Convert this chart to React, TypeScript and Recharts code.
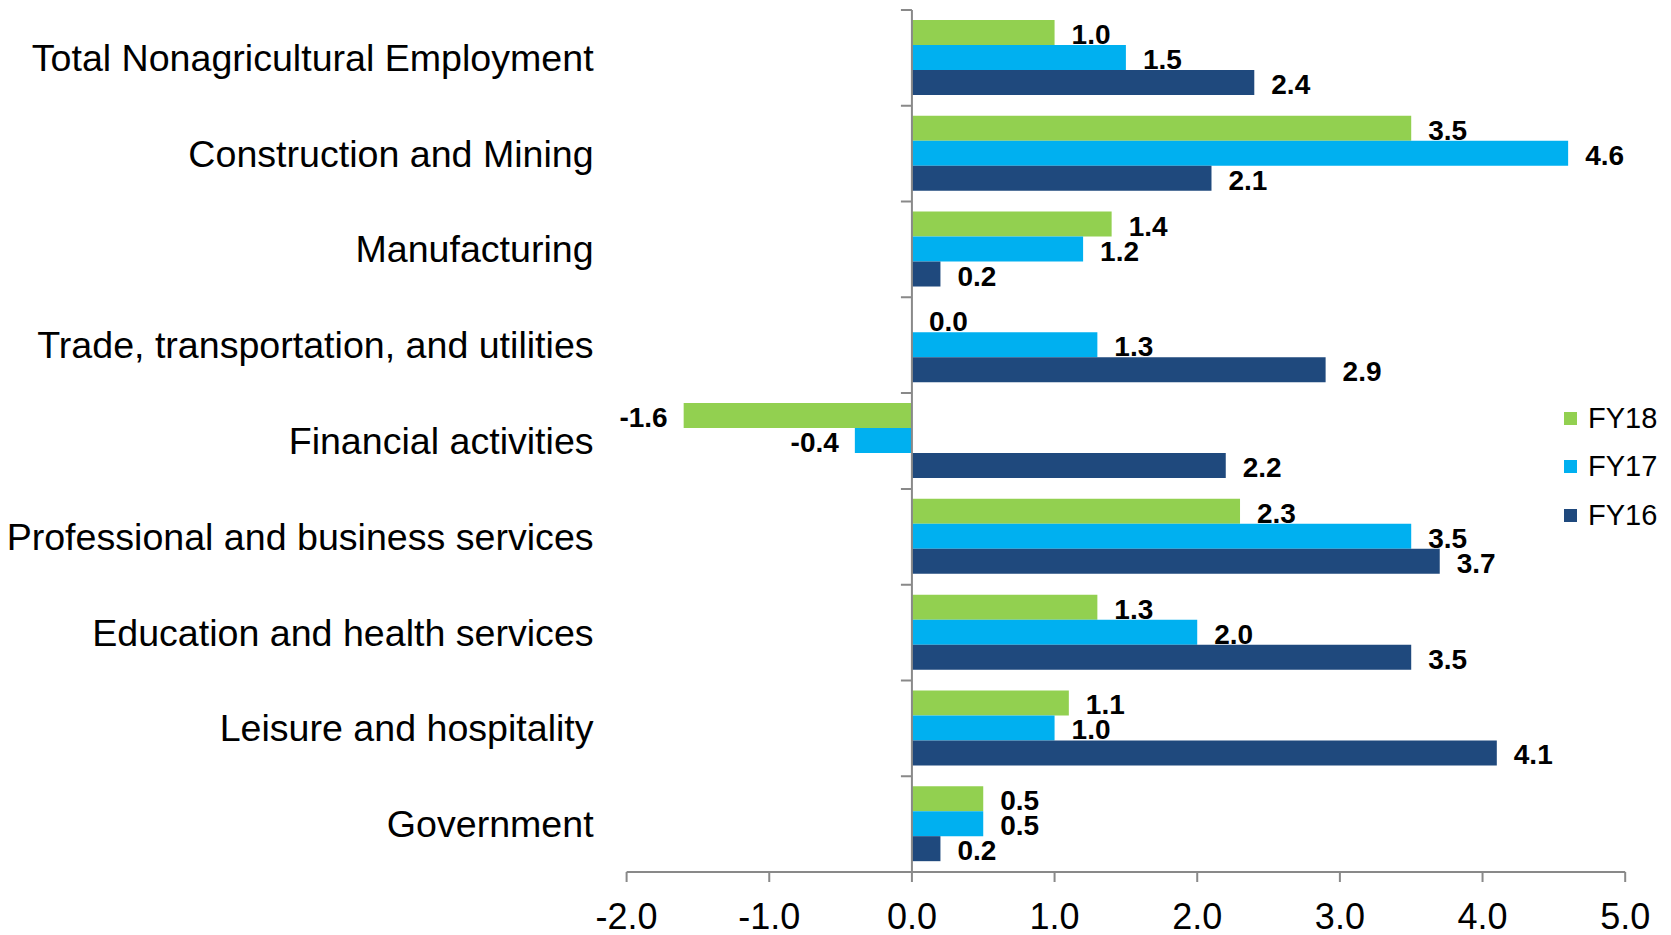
import React from 'react';
import { BarChart, Bar, XAxis, YAxis, ReferenceLine, LabelList, Legend } from 'recharts';

const CATEGORIES = [
  'Total Nonagricultural Employment',
  'Construction and Mining',
  'Manufacturing',
  'Trade, transportation, and utilities',
  'Financial activities',
  'Professional and business services',
  'Education and health services',
  'Leisure and hospitality',
  'Government',
];
const FY18 = [1.0, 3.5, 1.4, 0.0, -1.6, 2.3, 1.3, 1.1, 0.5];
const FY17 = [1.5, 4.6, 1.2, 1.3, -0.4, 3.5, 2.0, 1.0, 0.5];
const FY16 = [2.4, 2.1, 0.2, 2.9, 2.2, 3.7, 3.5, 4.1, 0.2];
const X_TICKS = [-2, -1, 0, 1, 2, 3, 4, 5];

const SERIES = [
  { key: 'FY18', color: '#92D050' },
  { key: 'FY17', color: '#00B0F0' },
  { key: 'FY16', color: '#1F497D' },
];

const data = CATEGORIES.map((name, i) => ({
  name,
  FY18: FY18[i],
  FY17: FY17[i],
  FY16: FY16[i],
}));

const FONT = '"Liberation Sans", Arial, sans-serif';
const AXIS_GRAY = '#898989';

/* eslint-disable @typescript-eslint/no-explicit-any */
function ValueLabel(props: any) {
  const { x, y, width, height, value } = props;
  const left = Math.min(x, x + width);
  const right = Math.max(x, x + width);
  const neg = Number(value) < 0;
  return (
    <text
      x={neg ? left - 16 : right + 17}
      y={y + height / 2 + 11.5}
      textAnchor={neg ? 'end' : 'start'}
      fontSize={28}
      fontWeight="bold"
      fontFamily={FONT}
      fill="#000"
    >
      {Number(value).toFixed(1)}
    </text>
  );
}

function CategoryTick(props: any) {
  const { x, y, payload } = props;
  return (
    <text x={x} y={y + 13} textAnchor="end" fontSize={37.6} fontFamily={FONT} fill="#000">
      {payload.value}
    </text>
  );
}

// vertical axis sits at x = 0, with tick marks on the category boundaries
function ZeroAxis(props: any) {
  const { x1, y1, y2 } = props;
  const top = Math.min(y1, y2);
  const bottom = Math.max(y1, y2);
  const step = (bottom - top) / CATEGORIES.length;
  let d = `M${x1},${top}V${bottom}`;
  for (let i = 0; i <= CATEGORIES.length; i++) {
    d += `M${x1 - 11},${top + i * step}H${x1}`;
  }
  return <path d={d} stroke={AXIS_GRAY} strokeWidth={2} fill="none" />;
}

function LegendBox() {
  return (
    <div style={{ fontFamily: FONT }}>
      {SERIES.map((s) => (
        <div key={s.key} style={{ display: 'flex', alignItems: 'center', height: 48.5 }}>
          <span style={{ width: 13, height: 13, background: s.color, marginRight: 11 }} />
          <span style={{ fontSize: 29, color: '#000' }}>{s.key}</span>
        </div>
      ))}
    </div>
  );
}

export default function App() {
  return (
    <div
      style={{
        position: 'absolute',
        left: 0,
        top: 0,
        width: 1671,
        height: 935,
        background: '#fff',
        fontFamily: FONT,
      }}
    >
      <BarChart
        width={1671}
        height={935}
        data={data}
        layout="vertical"
        margin={{ top: 10, right: 45.8, bottom: 23, left: 26.6 }}
        barCategoryGap="10.4%"
        barGap={0}
      >
        <XAxis
          type="number"
          domain={[-2, 5]}
          ticks={X_TICKS}
          interval={0}
          allowDataOverflow
          height={40}
          tickFormatter={(v: number) => v.toFixed(1)}
          axisLine={{ stroke: AXIS_GRAY, strokeWidth: 2 }}
          tickLine={{ stroke: AXIS_GRAY, strokeWidth: 2 }}
          tickSize={10}
          tickMargin={21}
          tick={{ fontSize: 36, fill: '#000', fontFamily: FONT }}
        />
        <YAxis
          type="category"
          dataKey="name"
          width={600}
          axisLine={false}
          tickLine={false}
          tickSize={0}
          tickMargin={33}
          interval={0}
          tick={CategoryTick}
        />
        {SERIES.map((s) => (
          <Bar
            key={s.key}
            dataKey={s.key}
            fill={s.color}
            minPointSize={0.01}
            isAnimationActive={false}
          >
            <LabelList dataKey={s.key} content={ValueLabel} />
          </Bar>
        ))}
        <ReferenceLine x={0} stroke={AXIS_GRAY} shape={ZeroAxis} />
        <Legend
          layout="horizontal"
          verticalAlign="middle"
          align="center"
          wrapperStyle={{ left: 1564, top: 394, width: 107, right: 'auto', bottom: 'auto' }}
          content={() => <LegendBox />}
        />
      </BarChart>
    </div>
  );
}
